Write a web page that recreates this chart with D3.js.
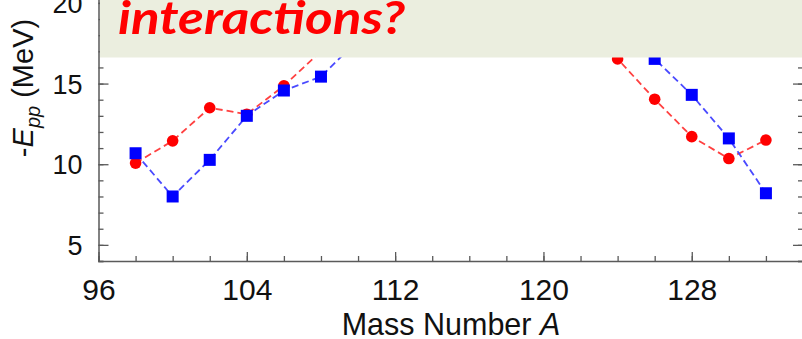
<!DOCTYPE html>
<html>
<head>
<meta charset="utf-8">
<script src="https://cdn.jsdelivr.net/npm/d3@7"></script>
<style>
  html, body { margin: 0; padding: 0; background: #ffffff; }
  svg { display: block; }
</style>
</head>
<body>
<svg id="chart" width="802" height="339"></svg>
<script>
// Mass numbers of the isotopes
const massNumbers = [98, 100, 102, 104, 106, 108, 110, 112, 114, 116, 118, 120, 122, 124, 126, 128, 130, 132];
// -E_pp (MeV), circle series
const eppCircles = [10.07, 11.45, 13.5, 13.1, 14.86, 17.0, 18.6, 19.5, 20.2, 20.6, 20.3, 19.6, 18.4, 16.53, 14.03, 11.71, 10.35, 11.5];
// -E_pp (MeV), square series
const eppSquares = [10.68, 8.0, 10.27, 13.0, 14.57, 15.43, 17.7, 19.0, 19.8, 20.5, 20.4, 19.8, 19.0, 18.2, 16.53, 14.3, 11.6, 8.2];

const xMajorTicks = [96, 104, 112, 120, 128];
const xMinorTicks = d3.range(96, 135, 2);
const yMajorTicks = [5, 10, 15, 20];
const yMinorTicks = d3.range(4, 25, 1);

const bannerText = "interactions?";

const svg = d3.select("#chart");

const x = d3.scaleLinear().domain([96, 134]).range([98.5, 803]);
const y = d3.scaleLinear().domain([4, 25]).range([261, 261 - 21 * 16.13]);

const axisColor = "#5a5a5a";
const g = svg.append("g");

// bottom axis with inward ticks
const xAxisMinor = d3.axisBottom(x).tickValues(xMinorTicks).tickSize(-5).tickFormat("");
const xAxisMajor = d3.axisBottom(x).tickValues(xMajorTicks).tickSize(-9).tickFormat(d => d);
g.append("g").attr("transform", "translate(0,261)").call(xAxisMinor);
const xa = g.append("g").attr("transform", "translate(0,261)").call(xAxisMajor);
xa.select(".domain").remove();
xa.selectAll(".tick text")
  .attr("y", 39).attr("dy", 0)
  .attr("font-family", "Liberation Sans, Arial, sans-serif")
  .attr("font-size", 30).attr("fill", "#111");

// left axis with inward ticks
const yAxisMinor = d3.axisLeft(y).tickValues(yMinorTicks).tickSize(-5).tickFormat("");
const yAxisMajor = d3.axisLeft(y).tickValues(yMajorTicks).tickSize(-10).tickFormat(d => d);
g.append("g").attr("transform", "translate(98.5,0)").call(yAxisMinor);
const ya = g.append("g").attr("transform", "translate(98.5,0)").call(yAxisMajor);
ya.select(".domain").remove();
ya.selectAll(".tick text")
  .attr("x", -16).attr("dy", "0.36em")
  .attr("font-family", "Liberation Sans, Arial, sans-serif")
  .attr("font-size", 27).attr("fill", "#111");

// right axis mirror ticks
const yAxisRightMinor = d3.axisRight(y).tickValues(yMinorTicks).tickSize(-5).tickFormat("");
const yAxisRightMajor = d3.axisRight(y).tickValues(yMajorTicks).tickSize(-10).tickFormat("");
g.append("g").attr("transform", "translate(803,0)").call(yAxisRightMinor);
g.append("g").attr("transform", "translate(803,0)").call(yAxisRightMajor).select(".domain").remove();

g.selectAll(".tick line").attr("stroke", axisColor).attr("stroke-width", 1.3);
g.selectAll(".domain").attr("stroke", axisColor).attr("stroke-width", 1.5);

// axis titles
svg.append("text")
  .attr("x", 451).attr("y", 335)
  .attr("text-anchor", "middle")
  .attr("font-family", "Liberation Sans, Arial, sans-serif")
  .attr("font-size", 30.5).attr("fill", "#111")
  .call(t => {
    t.append("tspan").text("Mass Number ");
    t.append("tspan").attr("font-style", "italic").text("A");
  });

svg.append("text")
  .attr("transform", "translate(33,88) rotate(-90)")
  .attr("text-anchor", "middle")
  .attr("font-family", "Liberation Sans, Arial, sans-serif")
  .attr("font-size", 29).attr("fill", "#111")
  .call(t => {
    t.append("tspan").text("-");
    t.append("tspan").attr("font-style", "italic").text("E");
    t.append("tspan").attr("font-style", "italic").attr("font-size", 20).attr("dy", 7).text("pp");
    t.append("tspan").attr("dy", -7).text(" (MeV)");
  });

// series
const pointsC = massNumbers.map((m, i) => [m, eppCircles[i]]);
const pointsS = massNumbers.map((m, i) => [m, eppSquares[i]]);
const line = d3.line().x(d => x(d[0])).y(d => y(d[1]));

svg.append("path").datum(pointsC)
  .attr("d", line).attr("fill", "none")
  .attr("stroke", "#ff4040").attr("stroke-width", 1.8)
  .attr("stroke-dasharray", "7,4");
svg.append("g").selectAll("circle").data(pointsC).join("circle")
  .attr("cx", d => x(d[0])).attr("cy", d => y(d[1]))
  .attr("r", 5.8).attr("fill", "#ff0000");

svg.append("path").datum(pointsS)
  .attr("d", line).attr("fill", "none")
  .attr("stroke", "#4a4aff").attr("stroke-width", 1.8)
  .attr("stroke-dasharray", "7,4");
const sq = 12;
svg.append("g").selectAll("rect").data(pointsS).join("rect")
  .attr("x", d => x(d[0]) - sq / 2).attr("y", d => y(d[1]) - sq / 2)
  .attr("width", sq).attr("height", sq).attr("fill", "#0000ff");

// banner across the top of the plot
svg.append("rect")
  .attr("x", 100).attr("y", -5).attr("width", 710).attr("height", 62.5)
  .attr("fill", "#ebeedf");

svg.append("text")
  .attr("x", 118).attr("y", 34)
  .attr("textLength", 287).attr("lengthAdjust", "spacingAndGlyphs")
  .attr("font-family", "Lato, 'Open Sans', sans-serif")
  .attr("font-weight", "bold").attr("font-style", "italic")
  .attr("font-size", 45).attr("fill", "#ff0000")
  .text(bannerText);
</script>
</body>
</html>
